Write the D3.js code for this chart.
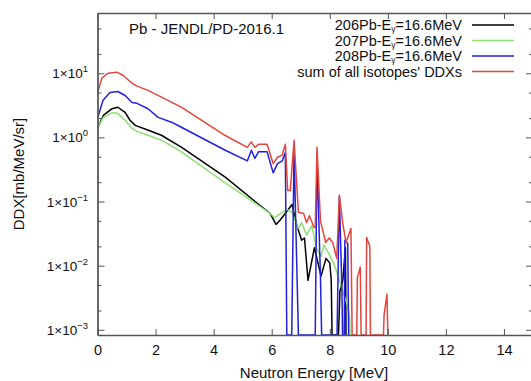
<!DOCTYPE html>
<html>
<head>
<meta charset="utf-8">
<script src="https://cdn.jsdelivr.net/npm/d3@7"></script>
<style>
  body { margin: 0; background: #fff; }
  text { font-family: "Liberation Sans", Arial, Helvetica, sans-serif; fill: #111; }
</style>
</head>
<body>
<div id="root"></div>
<script>
// DDX data [energy MeV, mb/MeV/sr], zero = no value (drops to axis)
const pb206 = [[0,1.38],[0.2,2.2],[0.5,2.8],[0.7,2.95],[0.95,2.45],[1.12,1.85],[1.3,1.54],[1.75,1.29],[2.2,1.08],[2.9,0.70],[4.4,0.24],[5.43,0.1],[5.95,0.065],[6.15,0.044],[6.3,0.052],[6.7,0.09],[6.85,0.045],[7.03,0.025],[7.13,0.027],[7.25,0.0059],[7.47,0.019],[7.7,0.0069],[7.87,0.013],[8.0,0.011],[8.05,0.006],[8.08,0],[8.3,0],[8.35,0.004],[8.45,0.006],[8.54,0.019],[8.56,0]];
const pb207 = [[0,1.38],[0.2,2.05],[0.53,2.45],[0.7,2.35],[0.95,1.85],[1.19,1.38],[1.36,1.24],[1.74,1.08],[2.22,0.9],[2.9,0.59],[4.3,0.21],[5.95,0.065],[6.1,0.056],[6.3,0.065],[6.53,0.075],[6.7,0.068],[6.92,0.038],[7.03,0.047],[7.2,0.03],[7.38,0.042],[7.54,0.019],[7.7,0.014],[7.8,0.021],[7.95,0.016],[8.13,0.011],[8.25,0.0078],[8.4,0.0046],[8.6,0.0025],[8.68,0.0016],[8.7,0]];
const pb208 = [[0,1.98],[0.19,3.8],[0.43,5.0],[0.7,5.2],[0.95,4.5],[1.19,3.5],[1.36,3.4],[1.74,2.8],[2.09,2.05],[2.57,1.71],[2.84,1.48],[4.4,0.63],[5.16,0.43],[5.3,0.63],[5.42,0.47],[5.55,0.6],[5.84,0.6],[6.05,0.28],[6.2,0.39],[6.36,0.43],[6.47,0.58],[6.52,0],[6.69,0],[6.77,0.63],[6.92,0],[7.5,0],[7.56,0.52],[7.68,0.0065],[7.72,0],[8.25,0],[8.33,0.12],[8.42,0.004],[8.44,0],[8.5,0],[8.52,0.025],[8.62,0.022],[8.65,0]];
const pbSum = [[0,4.9],[0.15,8.4],[0.36,10],[0.67,10.4],[0.88,9.3],[1.19,7.0],[1.36,6.3],[1.74,5.4],[2.22,4.2],[2.9,2.94],[4.4,1.07],[5.16,0.70],[5.3,0.85],[5.42,0.70],[5.55,0.78],[5.84,0.78],[6.05,0.39],[6.2,0.49],[6.36,0.53],[6.47,0.78],[6.55,0.148],[6.64,0.148],[6.77,0.9],[6.92,0.068],[7.1,0.065],[7.2,0.047],[7.3,0.06],[7.45,0.04],[7.5,0.039],[7.56,0.70],[7.68,0.05],[7.86,0.023],[7.98,0.027],[8.1,0.023],[8.24,0.013],[8.33,0.125],[8.45,0.045],[8.56,0.023],[8.73,0.038],[8.77,0],[8.93,0],[8.95,0.0065],[9.05,0.0095],[9.08,0],[9.25,0],[9.27,0.0275],[9.38,0.02],[9.4,0],[9.85,0],[9.87,0.0017],[9.97,0.0036],[10.0,0]];

const seriesNames = ["206Pb", "207Pb", "208Pb", "sum of all isotopes' DDXs"];
const seriesColors = ["#000000", "#8ee070", "#2020dd", "#e4453c"];
const xTicks = [0, 2, 4, 6, 8, 10, 12, 14];
const yMajor = [1e-3, 1e-2, 1e-1, 1, 10];
const yMinor = [2e-3, 5e-3, 2e-2, 5e-2, 0.2, 0.5, 2, 5, 20, 50];
const title = "Pb - JENDL/PD-2016.1";

window.onload = () => {
  let W = 531, H = 381;
  let m = { left: 97.5, top: 13, right: 533, bottom: 335 };
  let svg = d3.select("#root").append("svg").attr("width", W).attr("height", H);

  let x = d3.scaleLinear().domain([0, 15]).range([m.left, m.right]);
  let y = d3.scaleLog().domain([8.3e-4, 87]).range([m.bottom, m.top]);
  let yMin = y.domain()[0];

  svg.append("defs").append("clipPath").attr("id", "plot")
    .append("rect").attr("x", m.left).attr("y", m.top)
    .attr("width", m.right - m.left).attr("height", m.bottom - m.top);

  let line = d3.line().x(d => x(d[0])).y(d => y(Math.max(d[1], yMin)));
  let data = [pb206, pb207, pb208, pbSum];

  svg.append("g").attr("clip-path", "url(#plot)")
    .selectAll("path").data(data).join("path")
    .attr("d", line)
    .attr("fill", "none")
    .attr("stroke", (d, i) => seriesColors[i])
    .attr("stroke-width", 1.5)
    .attr("stroke-linejoin", "round");

  // axes, ticks point inward
  let axisStyle = g => {
    g.selectAll("path,line").attr("stroke", "#555");
    g.selectAll("path").attr("stroke-width", 1.3);
  };
  svg.append("g").attr("transform", `translate(0,${m.bottom})`)
    .call(d3.axisBottom(x).tickValues(xTicks).tickSizeInner(-6).tickSizeOuter(0).tickPadding(10).tickFormat(d3.format("d")))
    .call(axisStyle)
    .call(g => g.selectAll("text").attr("font-size", 14.5).attr("fill", "#111"));
  svg.append("g").attr("transform", `translate(0,${m.top})`)
    .call(d3.axisTop(x).tickValues(xTicks).tickSizeInner(-6).tickSizeOuter(0).tickFormat(""))
    .call(axisStyle);
  svg.append("g").attr("transform", `translate(${m.left},0)`)
    .call(d3.axisLeft(y).tickValues(yMajor).tickSizeInner(-7).tickSizeOuter(0).tickFormat(""))
    .call(axisStyle);
  svg.append("g").attr("transform", `translate(${m.left},0)`)
    .call(d3.axisLeft(y).tickValues(yMinor).tickSizeInner(-4).tickSizeOuter(0).tickFormat(""))
    .call(axisStyle);
  svg.append("g").attr("transform", `translate(${m.right},0)`)
    .call(d3.axisRight(y).tickValues(yMajor).tickSizeInner(-7).tickSizeOuter(0).tickFormat(""))
    .call(axisStyle);
  svg.append("g").attr("transform", `translate(${m.right},0)`)
    .call(d3.axisRight(y).tickValues(yMinor).tickSizeInner(-4).tickSizeOuter(0).tickFormat(""))
    .call(axisStyle);

  // y labels 1x10^n
  let yl = svg.append("g").selectAll("text").data(yMajor).join("text")
    .attr("x", 88).attr("y", d => y(d) + 5)
    .attr("text-anchor", "end").attr("font-size", 13.5);
  yl.append("tspan").text("1\u00d710");
  yl.append("tspan").attr("dy", -6).attr("font-size", 9.5)
    .text(d => String(Math.round(Math.log10(d))).replace("-", "\u2212"));

  // axis titles
  svg.append("text").attr("x", 314).attr("y", 378)
    .attr("text-anchor", "middle").attr("font-size", 15)
    .text("Neutron Energy [MeV]");
  svg.append("text").attr("transform", "translate(24,174) rotate(-90)")
    .attr("text-anchor", "middle").attr("font-size", 15)
    .text("DDX[mb/MeV/sr]");

  svg.append("text").attr("x", 129).attr("y", 34).attr("font-size", 15).text(title);

  // legend
  let lg = svg.append("g").selectAll("g").data(seriesNames).join("g")
    .attr("transform", (d, i) => `translate(0,${25 + i * 15.5})`);
  lg.append("line").attr("x1", 472).attr("x2", 514)
    .attr("stroke", (d, i) => seriesColors[i]).attr("stroke-width", 1.5);
  let lt = lg.append("text").attr("x", 462).attr("y", 5)
    .attr("text-anchor", "end").attr("font-size", 14.5);
  lt.each(function(d, i) {
    let t = d3.select(this);
    if (i < 3) {
      t.append("tspan").text(d + "-E");
      t.append("tspan").attr("dy", 2).attr("font-size", 8.5).text("\u03b3");
      t.append("tspan").attr("dy", -2).text("=16.6MeV");
    } else {
      t.text(d);
    }
  });
};
</script>
</body>
</html>
